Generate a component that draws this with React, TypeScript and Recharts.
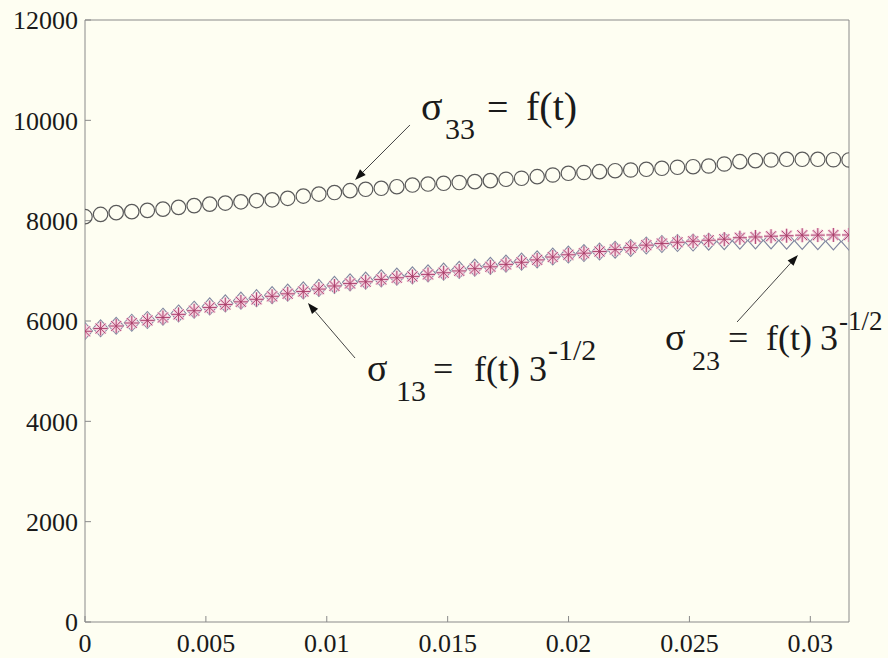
import React from 'react'
import { ScatterChart, Scatter, XAxis, YAxis, ReferenceLine } from 'recharts'

// time steps (x axis)
const T = [
  0, 0.000645, 0.00129, 0.001935, 0.00258, 0.003224, 0.003869, 0.004514, 0.005159, 0.005804,
  0.006449, 0.007094, 0.007739, 0.008384, 0.009029, 0.009673, 0.010318, 0.010963, 0.011608, 0.012253,
  0.012898, 0.013543, 0.014188, 0.014833, 0.015478, 0.016122, 0.016767, 0.017412, 0.018057, 0.018702,
  0.019347, 0.019992, 0.020637, 0.021282, 0.021927, 0.022571, 0.023216, 0.023861, 0.024506, 0.025151,
  0.025796, 0.026441, 0.027086, 0.027731, 0.028376, 0.02902, 0.029665, 0.03031, 0.030955, 0.0316,
]

const SIGMA_33 = [
  8080, 8125, 8160, 8180, 8205, 8230, 8265, 8300, 8330, 8350,
  8375, 8400, 8415, 8445, 8490, 8530, 8560, 8598, 8625, 8645,
  8677, 8710, 8730, 8745, 8760, 8778, 8798, 8825, 8845, 8877,
  8910, 8944, 8960, 8977, 8996, 9010, 9024, 9044, 9064, 9076,
  9090, 9130, 9176, 9196, 9209, 9223, 9223, 9223, 9215, 9210,
]

const SIGMA_13 = [
  5800, 5855, 5905, 5965, 6020, 6085, 6150, 6225, 6290, 6350,
  6405, 6455, 6515, 6565, 6610, 6660, 6720, 6770, 6805, 6850,
  6885, 6910, 6950, 6985, 7020, 7065, 7100, 7145, 7185, 7230,
  7285, 7325, 7355, 7385, 7420, 7455, 7505, 7535, 7555, 7565,
  7580, 7590, 7600, 7605, 7605, 7600, 7595, 7590, 7585, 7580,
]

const SIGMA_23 = [
  5795, 5850, 5900, 5960, 6012, 6070, 6132, 6205, 6270, 6328,
  6382, 6432, 6492, 6542, 6588, 6636, 6698, 6748, 6782, 6828,
  6862, 6888, 6928, 6962, 6998, 7043, 7080, 7128, 7170, 7218,
  7275, 7320, 7352, 7385, 7425, 7462, 7512, 7545, 7570, 7590,
  7610, 7630, 7660, 7675, 7690, 7700, 7710, 7712, 7715, 7715,
]

const X_TICKS = [0, 0.005, 0.01, 0.015, 0.02, 0.025, 0.03]
const Y_TICKS = [0, 2000, 4000, 6000, 8000, 10000, 12000]
const X_DOMAIN = [0, 0.0316]
const Y_DOMAIN = [0, 12000]

// arrows: [tail, head] in data units
const ARROWS = [
  [{ x: 0.01344, y: 9907 }, { x: 0.01117, y: 8811 }],
  [{ x: 0.01117, y: 5262 }, { x: 0.00922, y: 6359 }],
  [{ x: 0.02697, y: 5980 }, { x: 0.02949, y: 7316 }],
]

const BG = '#fefef2'
const AXIS = '#8a8a8a'
const FONT = '"Liberation Serif", "Times New Roman", serif'

const toPoints = (ys: number[]) => T.map((t, i) => ({ x: t, y: ys[i] }))

const CircleMark = (p: any) => (
  <circle cx={p.cx} cy={p.cy} r={7.2} fill="none" stroke="#5a5a5a" strokeWidth={1.2} />
)

const DiamondMark = (p: any) => {
  const { cx, cy } = p
  return (
    <path
      d={`M${cx},${cy - 8.5}L${cx + 7.5},${cy}L${cx},${cy + 8.5}L${cx - 7.5},${cy}Z`}
      fill="none"
      stroke="#80869f"
      strokeWidth={1.1}
    />
  )
}

const StarMark = (p: any) => {
  const { cx, cy } = p
  const s = 7
  const d = 5
  const path = `M${cx - s},${cy}L${cx + s},${cy}M${cx},${cy - s}L${cx},${cy + s}M${cx - d},${cy - d}L${cx + d},${cy + d}M${cx - d},${cy + d}L${cx + d},${cy - d}`
  return (
    <g>
      <path d={path} stroke="#f2c4d8" strokeWidth={3} opacity={0.85} />
      <path d={path} stroke="#a83a66" strokeWidth={0.9} />
    </g>
  )
}

const Arrow = (p: any) => {
  const { x1, y1, x2, y2 } = p
  const a = Math.atan2(y2 - y1, x2 - x1)
  const L = 11
  const W = 4
  const bx = x2 - L * Math.cos(a)
  const by = y2 - L * Math.sin(a)
  const pts = `${x2},${y2} ${bx + W * Math.sin(a)},${by - W * Math.cos(a)} ${bx - W * Math.sin(a)},${by + W * Math.cos(a)}`
  return (
    <g>
      <line x1={x1} y1={y1} x2={bx} y2={by} stroke="#444" strokeWidth={1} />
      <polygon points={pts} fill="#111" />
    </g>
  )
}

const tickStyle = { fill: '#1a1a1a', fontFamily: FONT, fontSize: 26 }

export default function App() {
  return (
    <div style={{ position: 'relative', width: 888, height: 658, background: BG }}>
      <style>{`html,body{margin:0;padding:0;background:${BG};}`}</style>
      <ScatterChart width={888} height={658} margin={{ top: 10, right: 29, bottom: 0, left: 0 }}>
        <XAxis
          xAxisId="b"
          dataKey="x"
          type="number"
          domain={X_DOMAIN}
          ticks={X_TICKS}
          allowDataOverflow
          height={36}
          tickSize={-6}
          tickMargin={18}
          tick={tickStyle}
          stroke={AXIS}
        />
        <XAxis
          xAxisId="t"
          orientation="top"
          type="number"
          domain={X_DOMAIN}
          ticks={X_TICKS}
          allowDataOverflow
          height={10}
          tickSize={-6}
          tick={false}
          stroke={AXIS}
        />
        <YAxis
          yAxisId="l"
          dataKey="y"
          type="number"
          domain={Y_DOMAIN}
          ticks={Y_TICKS}
          allowDataOverflow
          width={85}
          tickSize={-6}
          tickMargin={13}
          tick={tickStyle}
          stroke={AXIS}
        />
        <YAxis
          yAxisId="r"
          orientation="right"
          type="number"
          domain={Y_DOMAIN}
          ticks={Y_TICKS}
          allowDataOverflow
          width={10}
          tickSize={-6}
          tick={false}
          stroke={AXIS}
        />
        <Scatter xAxisId="b" yAxisId="l" data={toPoints(SIGMA_33)} shape={CircleMark} isAnimationActive={false} />
        <Scatter xAxisId="b" yAxisId="l" data={toPoints(SIGMA_13)} shape={DiamondMark} isAnimationActive={false} />
        <Scatter xAxisId="b" yAxisId="l" data={toPoints(SIGMA_23)} shape={StarMark} isAnimationActive={false} />
        {ARROWS.map((seg, i) => (
          <ReferenceLine key={i} xAxisId="b" yAxisId="l" segment={seg} shape={Arrow} ifOverflow="visible" />
        ))}
      </ScatterChart>
      <svg
        width={888}
        height={658}
        style={{ position: 'absolute', left: 0, top: 0, pointerEvents: 'none' }}
        fontFamily={FONT}
        fill="#1a1a1a"
      >
        <text x={421} y={120} fontSize={40}>σ</text>
        <text x={445} y={139} fontSize={30}>33</text>
        <text x={487} y={120} fontSize={38}>=</text>
        <text x={526} y={120} fontSize={40}>f(t)</text>

        <text x={367} y={381} fontSize={38}>σ</text>
        <text x={396} y={401} fontSize={30}>13</text>
        <text x={433} y={381} fontSize={36}>=</text>
        <text x={474} y={381} fontSize={36}>f(t)</text>
        <text x={529} y={381} fontSize={36}>3</text>
        <text x={548} y={360} fontSize={30}>-1/2</text>

        <text x={665} y={350} fontSize={38}>σ</text>
        <text x={692} y={370} fontSize={28}>23</text>
        <text x={728} y={350} fontSize={36}>=</text>
        <text x={766} y={350} fontSize={36}>f(t)</text>
        <text x={820} y={350} fontSize={36}>3</text>
        <text x={839} y={330} fontSize={27}>-1/2</text>
      </svg>
    </div>
  )
}
